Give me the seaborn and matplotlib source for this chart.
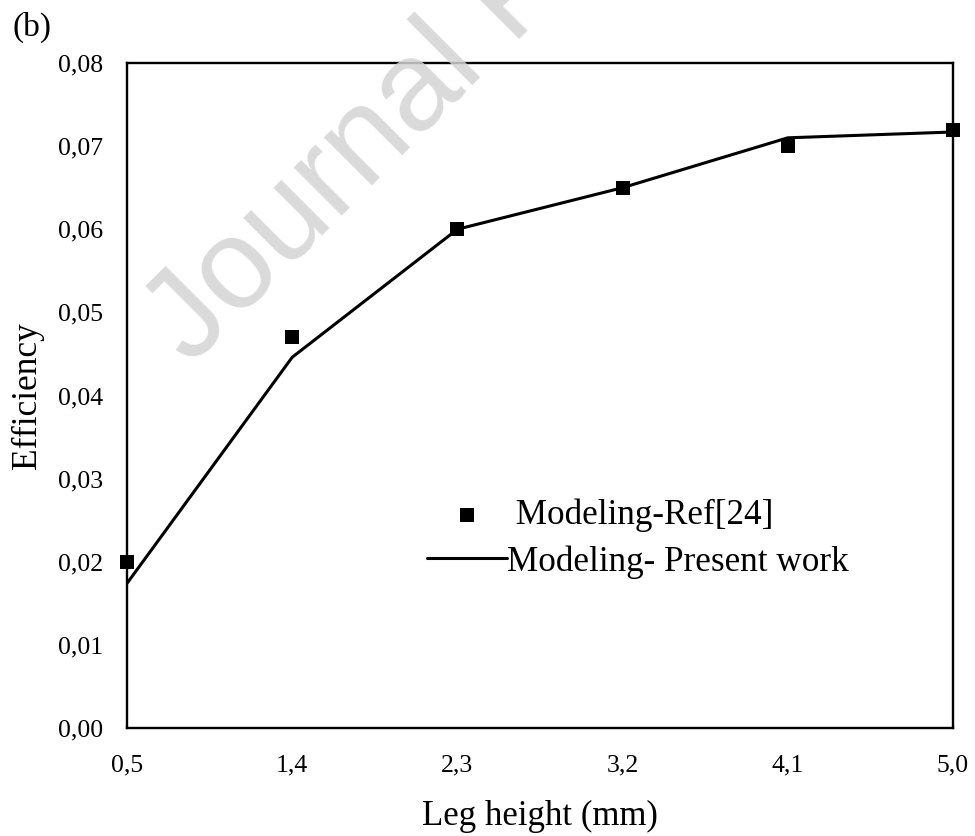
import matplotlib
matplotlib.use("Agg")
import matplotlib.pyplot as plt
import seaborn as sns
import pandas as pd

# ---- data ----
leg_height = [0.5, 1.4, 2.3, 3.2, 4.1, 5.0]
tick_labels = ["0,5", "1,4", "2,3", "3,2", "4,1", "5,0"]
eff_ref24 = [0.020, 0.047, 0.060, 0.065, 0.070, 0.072]
eff_present = [0.0174, 0.0446, 0.0600, 0.0650, 0.0710, 0.0717]
y_ticks = [0.00, 0.01, 0.02, 0.03, 0.04, 0.05, 0.06, 0.07, 0.08]
y_tick_labels = ["0,00", "0,01", "0,02", "0,03", "0,04", "0,05", "0,06", "0,07", "0,08"]

df_ref = pd.DataFrame({"x": leg_height, "y": eff_ref24})
df_pres = pd.DataFrame({"x": leg_height, "y": eff_present})

sns.set_theme(style="white")
plt.rcParams["font.family"] = ["Liberation Serif", "DejaVu Serif"]

W, H = 975, 836
fig = plt.figure(figsize=(W / 100, H / 100), dpi=100)
ax = fig.add_axes([127 / W, 1 - 728 / H, (953 - 127) / W, (728 - 63) / H])

sns.lineplot(data=df_pres, x="x", y="y", ax=ax, color="black", linewidth=2.2,
             label="Modeling- Present work", zorder=3)
sns.scatterplot(data=df_ref, x="x", y="y", ax=ax, color="black", marker="s",
                s=112, edgecolor="black", linewidth=0, label=" Modeling-Ref[24]",
                zorder=4, clip_on=False)

ax.set_xlim(0.5, 5.0)
ax.set_ylim(0, 0.08)
ax.set_xticks(leg_height)
ax.set_xticklabels(tick_labels)
ax.set_yticks(y_ticks)
ax.set_yticklabels(y_tick_labels)
ax.tick_params(axis="both", length=0, labelsize=18.5, colors="black")
ax.tick_params(axis="y", pad=17)
ax.tick_params(axis="x", pad=19)

for sp in ax.spines.values():
    sp.set_visible(True)
    sp.set_color("black")
    sp.set_linewidth(1.7)

ax.set_xlabel("Leg height (mm)", fontsize=25, color="black")
ax.set_ylabel("Efficiency", fontsize=25.5, color="black")
ax.xaxis.set_label_coords(0.5, (728 - 800) / 665)
ax.yaxis.set_label_coords((44 - 127) / 826, 0.5)

handles, labels = ax.get_legend_handles_labels()
order = [1, 0]
leg = ax.legend([handles[i] for i in order], [labels[i] for i in order],
                loc="upper left", bbox_to_anchor=((427 - 127) / 826, (728 - 499) / 665),
                frameon=False, fontsize=25.3, handlelength=2.28, handletextpad=0.0,
                borderpad=0, borderaxespad=0, labelspacing=0.36)
for t in leg.get_texts():
    t.set_color("black")

fig.text(12 / W, 1 - 27 / H, "(b)", fontsize=24, va="center", ha="left", color="black")

# watermark
fig.text(191 / W, 1 - 367 / H, "Journal Pre-proof", fontsize=92,
         family=["Liberation Sans", "DejaVu Sans"], color="#d4d4d4", alpha=0.85,
         rotation=45, rotation_mode="anchor", ha="left", va="baseline", zorder=10)

fig.savefig("out.png", dpi=100, facecolor="white")
